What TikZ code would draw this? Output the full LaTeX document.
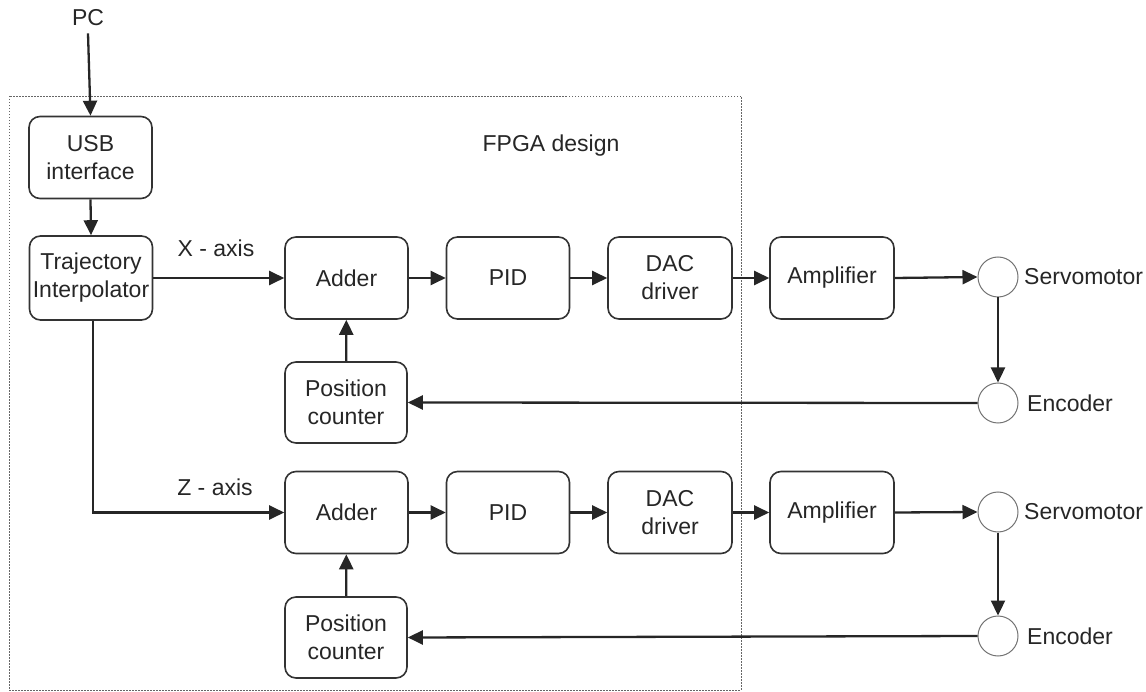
\documentclass[tikz,border=0pt]{standalone}
\usepackage{fontspec}
\setmainfont{Liberation Sans}
\usetikzlibrary{arrows.meta}
\begin{document}
\begin{tikzpicture}[x=1pt,y=-1pt,
  txt/.style={text=black!85, font=\fontsize{23}{28}\selectfont, inner sep=0pt},
  blk/.style={txt, draw=black!80, line width=1.6pt, rounded corners=11pt, align=center, minimum width=123pt, minimum height=82pt},
  circ/.style={draw=black!55, line width=1pt, circle, minimum size=40pt, inner sep=0pt},
  arr/.style={draw=black!85, line width=2.3pt, -{Triangle[length=15pt,width=14pt]}},
  ln/.style={draw=black!85, line width=2.3pt}
]
\useasboundingbox (0,0) rectangle (1146,692);
% FPGA frame
\draw[black!60, line width=0.9pt, dash pattern=on 1.5pt off 1.5pt] (9,96) rectangle (741,690);
\node[txt] (fpga) at (551,146) {FPGA design};

\node[txt] (pc) at (88,18) {PC};
\node[blk] (usb) at (90.5,157.5) {USB\\interface};
\node[blk, minimum height=84pt] (traj) at (91,278) {Trajectory\\Interpolator};

% X axis
\node[blk] (addx) at (346.5,278) {Adder};
\node[blk] (pidx) at (508,278) {PID};
\node[blk, minimum width=124pt] (dacx) at (670,278) {DAC\\driver};
\node[blk, minimum width=124pt] (ampx) at (832,278) {Amplifier};
\node[circ] (servox) at (998,277) {};
\node[circ] (encx) at (998,403) {};
\node[blk, minimum width=122pt, minimum height=81pt] (posx) at (346,402.5) {Position\\counter};
\node[txt, anchor=west] (servoxl) at (1024,277) {Servomotor};
\node[txt, anchor=west] (encxl) at (1027,403) {Encoder};
\node[txt] (xlab) at (216,248) {X - axis};

% Z axis
\node[blk] (addz) at (346.5,512.5) {Adder};
\node[blk] (pidz) at (508,512.5) {PID};
\node[blk, minimum width=124pt] (dacz) at (670,512.5) {DAC\\driver};
\node[blk, minimum width=124pt] (ampz) at (832,512.5) {Amplifier};
\node[circ] (servoz) at (998,512) {};
\node[circ] (encz) at (998,636) {};
\node[blk, minimum width=122pt, minimum height=81pt] (posz) at (346,637.5) {Position\\counter};
\node[txt, anchor=west] (servozl) at (1024,512) {Servomotor};
\node[txt, anchor=west] (enczl) at (1027,636) {Encoder};
\node[txt] (zlab) at (215,487) {Z - axis};

% connectors
\draw[arr] ([yshift=-7pt]pc.south) -- (usb.north);
\draw[arr] (usb.south) -- (traj.north);
\draw[arr] (traj.east) -- (addx.west);
\draw[arr] ([xshift=2pt]traj.south) |- (addz.west);

\draw[arr] (addx) -- (pidx);
\draw[arr] (pidx) -- (dacx);
\draw[arr] (dacx) -- (ampx);
\draw[arr] (ampx.east) -- (servox.west);
\draw[arr] (servox) -- (encx);
\draw[arr] (encx.west) -- (posx.east);
\draw[arr] (posx) -- (addx);

\draw[arr] (addz) -- (pidz);
\draw[arr] (pidz) -- (dacz);
\draw[arr] (dacz) -- (ampz);
\draw[arr] (ampz.east) -- (servoz.west);
\draw[arr] (servoz) -- (encz);
\draw[arr] (encz.west) -- (posz.east);
\draw[arr] (posz) -- (addz);
\end{tikzpicture}
\end{document}
